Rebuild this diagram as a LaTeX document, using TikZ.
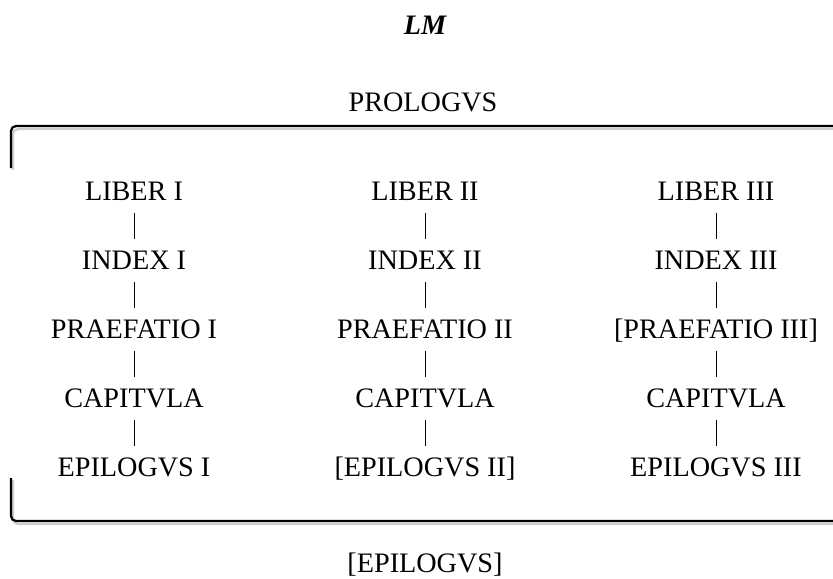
\documentclass[tikz,border=0pt]{standalone}
\usepackage{fontspec}
\setmainfont{Liberation Serif}
\usetikzlibrary{positioning}

\begin{document}
\begin{tikzpicture}
        [x=0.5pt, y=-0.5pt,
        font=\fontsize{14.1}{17}\selectfont,
        entry/.style ={rectangle, inner sep=0pt,
        text height=9.3pt, text depth=0pt,
        minimum width=130pt, align=center},
        line/.style ={draw, line width=0.5pt, shorten >=5.9pt, shorten <=5.9pt},
        brace/.style ={draw, line width=1.1pt, rounded corners=2.5pt},
        braceshadow/.style ={draw=black!20, line width=1.1pt, rounded corners=2.5pt}]
        \useasboundingbox (0,0) rectangle (833,578);
        % title and outer parts
        \node [entry, font=\fontsize{14.1}{17}\selectfont\bfseries\itshape] (title) at (425,25) {LM};
        \node [entry] (prologus) at (423,102) {PROLOGVS};
        \node [entry] (epilogus) at (425,563) {[EPILOGVS]};
        % the three books
        \matrix [column sep=15.5pt, row sep=25.2pt] (books) at (425,329)
            {
                % row 1
                \node [entry] (lib1) {LIBER I}; &
                \node [entry] (lib2) {LIBER II}; &
                \node [entry] (lib3) {LIBER III}; \\
                % row 2
                \node [entry] (ind1) {INDEX I}; &
                \node [entry] (ind2) {INDEX II}; &
                \node [entry] (ind3) {INDEX III}; \\
                % row 3
                \node [entry] (pra1) {PRAEFATIO I}; &
                \node [entry] (pra2) {PRAEFATIO II}; &
                \node [entry] (pra3) {[PRAEFATIO III]}; \\
                % row 4
                \node [entry] (cap1) {CAPITVLA}; &
                \node [entry] (cap2) {CAPITVLA}; &
                \node [entry] (cap3) {CAPITVLA}; \\
                % row 5
                \node [entry] (epi1) {EPILOGVS I}; &
                \node [entry] (epi2) {[EPILOGVS II]}; &
                \node [entry] (epi3) {EPILOGVS III}; \\
        };
        \begin{scope}[every path/.style=line]
            \foreach \n in {1,2,3} {
                \path (lib\n) -- (ind\n);
                \path (ind\n) -- (pra\n);
                \path (pra\n) -- (cap\n);
                \path (cap\n) -- (epi\n);
            }
        \end{scope}
        % bracket round the books
        \path [braceshadow] (840,129) -- (13,129) -- (13,170);
        \path [braceshadow] (13,480) -- (13,524) -- (840,524);
        \path [brace] (840,126) -- (11,126) -- (11,168);
        \path [brace] (11,478) -- (11,521) -- (840,521);
    \end{tikzpicture}
\end{document}
